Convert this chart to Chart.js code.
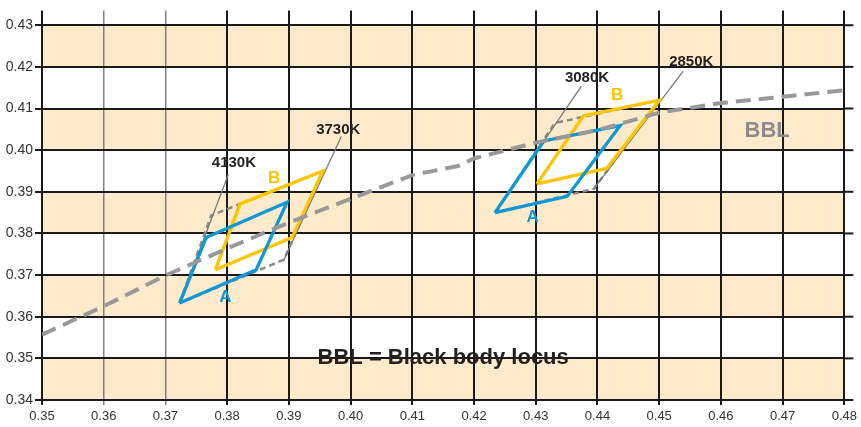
<!DOCTYPE html>
<html>
<head>
<meta charset="utf-8">
<script src="https://cdn.jsdelivr.net/npm/chart.js@4.4.1/dist/chart.umd.min.js"></script>
<style>
  body { margin: 0; background: #fff; }
  #wrap { width: 861px; height: 427px; }
</style>
</head>
<body>
<div id="wrap"><canvas id="chart" width="861" height="427"></canvas></div>
<script>
// tick values
const xTicks = [0.35, 0.36, 0.37, 0.38, 0.39, 0.40, 0.41, 0.42, 0.43, 0.44, 0.45, 0.46, 0.47, 0.48];
const yTicks = [0.34, 0.35, 0.36, 0.37, 0.38, 0.39, 0.40, 0.41, 0.42, 0.43];
// shaded rows (lower bound of each band)
const bandStarts = [0.34, 0.36, 0.38, 0.40, 0.42];

// black body locus
const bblX = [0.35, 0.36, 0.37, 0.38, 0.39, 0.40, 0.41, 0.4174, 0.42, 0.43, 0.44, 0.45, 0.46, 0.47, 0.48];
const bblY = [0.3557, 0.3625, 0.3699, 0.3764, 0.3826, 0.3883, 0.3940, 0.3962, 0.3980, 0.4018, 0.4048, 0.4090, 0.4113, 0.4128, 0.4144];

// quadrangles (closed)
const leftAX = [0.3723, 0.3766, 0.3897, 0.3847, 0.3723];
const leftAY = [0.3633, 0.3790, 0.3875, 0.3713, 0.3633];
const leftBX = [0.3781, 0.3821, 0.3955, 0.3905, 0.3781];
const leftBY = [0.3713, 0.3871, 0.3950, 0.3790, 0.3713];
const leftEnvX = [0.3723, 0.3774, 0.3955, 0.3892, 0.3723];
const leftEnvY = [0.3633, 0.3843, 0.3950, 0.3737, 0.3633];

const rightAX = [0.4234, 0.4313, 0.4437, 0.4351, 0.4234];
const rightAY = [0.3850, 0.4022, 0.4059, 0.3889, 0.3850];
const rightBX = [0.4302, 0.4377, 0.4500, 0.4415, 0.4302];
const rightBY = [0.3919, 0.4082, 0.4120, 0.3956, 0.3919];
const rightEnvX = [0.4234, 0.4331, 0.4500, 0.4394, 0.4234];
const rightEnvY = [0.3850, 0.4065, 0.4120, 0.3907, 0.3850];

// CCT lines: [top x, top y, bottom x, bottom y]
const cctNames = ['4130K', '3730K', '3080K', '2850K'];
const cctLines = [
  [0.3802, 0.3942, 0.3723, 0.3633],
  [0.3985, 0.4033, 0.3892, 0.3737],
  [0.4374, 0.4154, 0.4234, 0.3850],
  [0.4539, 0.4190, 0.4394, 0.3907]
];
const cctLabelX = [0.3811, 0.3980, 0.4383, 0.4552];
const cctLabelY = [0.3970, 0.4048, 0.4174, 0.4212];

const BLUE = '#0f97d6';
const YELLOW = '#fdc400';
const GRAY = '#999999';
const DARK = '#231f20';
const FONT = '"Liberation Sans", Arial, sans-serif';

function pts(xs, ys) {
  return xs.map((x, i) => ({ x: x, y: ys[i] }));
}

function lineSet(data, color, width, dash, order) {
  return {
    data: data,
    showLine: true,
    borderColor: color,
    borderWidth: width,
    borderDash: dash,
    pointRadius: 0,
    fill: false,
    tension: 0,
    order: order
  };
}

const datasets = [
  lineSet(pts(bblX, bblY), GRAY, 4, [15, 8], 0),
  lineSet(pts(leftAX, leftAY), BLUE, 3.3, [], 1),
  lineSet(pts(leftBX, leftBY), YELLOW, 3.3, [], 1),
  lineSet(pts(rightAX, rightAY), BLUE, 3.3, [], 1),
  lineSet(pts(rightBX, rightBY), YELLOW, 3.3, [], 1)
];
cctLines.forEach(l => {
  datasets.push(lineSet([{ x: l[0], y: l[1] }, { x: l[2], y: l[3] }], '#7a7a7a', 1.3, [], 2));
});
datasets.push(lineSet(pts(leftEnvX, leftEnvY), '#8a8a8a', 2.5, [6, 4], 3));
datasets.push(lineSet(pts(rightEnvX, rightEnvY), '#8a8a8a', 2.5, [6, 4], 3));

// peach bands behind the grid, labels on top
const bandsPlugin = {
  id: 'bands',
  beforeDraw(chart) {
    const { ctx, chartArea, scales } = chart;
    ctx.save();
    ctx.fillStyle = '#fdeaca';
    bandStarts.forEach(v => {
      const y1 = scales.y.getPixelForValue(v);
      const y2 = scales.y.getPixelForValue(v + 0.01);
      ctx.fillRect(chartArea.left, y2, chartArea.right - chartArea.left, y1 - y2);
    });
    ctx.restore();
  },
  afterDraw(chart) {
    const { ctx, chartArea, scales } = chart;
    ctx.save();
    // horizontal lines run a little past the last column
    ctx.strokeStyle = '#1a1a1a';
    ctx.lineWidth = 2;
    yTicks.forEach(v => {
      const y = scales.y.getPixelForValue(v);
      ctx.beginPath();
      ctx.moveTo(chartArea.right, y);
      ctx.lineTo(chartArea.right + 9, y);
      ctx.stroke();
    });

    const px = v => scales.x.getPixelForValue(v);
    const py = v => scales.y.getPixelForValue(v);
    ctx.textAlign = 'center';
    ctx.textBaseline = 'middle';

    ctx.fillStyle = DARK;
    ctx.font = 'bold 15px ' + FONT;
    cctNames.forEach((t, i) => ctx.fillText(t, px(cctLabelX[i]), py(cctLabelY[i])));

    ctx.font = 'bold 17px ' + FONT;
    ctx.fillStyle = BLUE;
    ctx.fillText('A', px(0.3797), py(0.3647));
    ctx.fillText('A', px(0.4295), py(0.3839));
    ctx.fillStyle = YELLOW;
    ctx.fillText('B', px(0.3876), py(0.3932));
    ctx.fillText('B', px(0.4432), py(0.4132));

    ctx.font = 'bold 22px ' + FONT;
    ctx.fillStyle = '#8c8c8c';
    ctx.fillText('BBL', px(0.4675), py(0.4046));
    ctx.fillStyle = DARK;
    ctx.fillText('BBL = Black body locus', px(0.4150), py(0.3502));
    ctx.restore();
  }
};

const isLight = v => Math.abs(v - 0.36) < 1e-6 || Math.abs(v - 0.37) < 1e-6;

new Chart(document.getElementById('chart'), {
  type: 'scatter',
  data: { datasets: datasets },
  plugins: [bandsPlugin],
  options: {
    responsive: false,
    animation: false,
    layout: { padding: { top: 6, right: 12, left: 0, bottom: 0 } },
    plugins: { legend: { display: false }, tooltip: { enabled: false } },
    scales: {
      x: {
        type: 'linear',
        min: 0.35,
        max: 0.48,
        afterBuildTicks: s => { s.ticks = xTicks.map(v => ({ value: v })); },
        afterFit: s => { s.height = 27; },
        border: { display: false },
        grid: {
          color: c => (c.tick && isLight(c.tick.value)) ? '#808080' : '#1a1a1a',
          lineWidth: c => (c.tick && isLight(c.tick.value)) ? 1.5 : 2,
          tickLength: 5
        },
        ticks: {
          padding: 4,
          color: '#333333',
          font: { family: FONT, size: 13 },
          callback: v => Number(v).toFixed(2),
          maxRotation: 0
        }
      },
      y: {
        type: 'linear',
        min: 0.34,
        max: 0.43356,
        afterBuildTicks: s => { s.ticks = yTicks.map(v => ({ value: v })); },
        afterFit: s => { s.width = 42; },
        border: { display: false },
        grid: { color: '#1a1a1a', lineWidth: 2, tickLength: 7 },
        ticks: {
          padding: 2,
          color: '#333333',
          font: { family: FONT, size: 14 },
          callback: v => Number(v).toFixed(2)
        }
      }
    }
  }
});
</script>
</body>
</html>
